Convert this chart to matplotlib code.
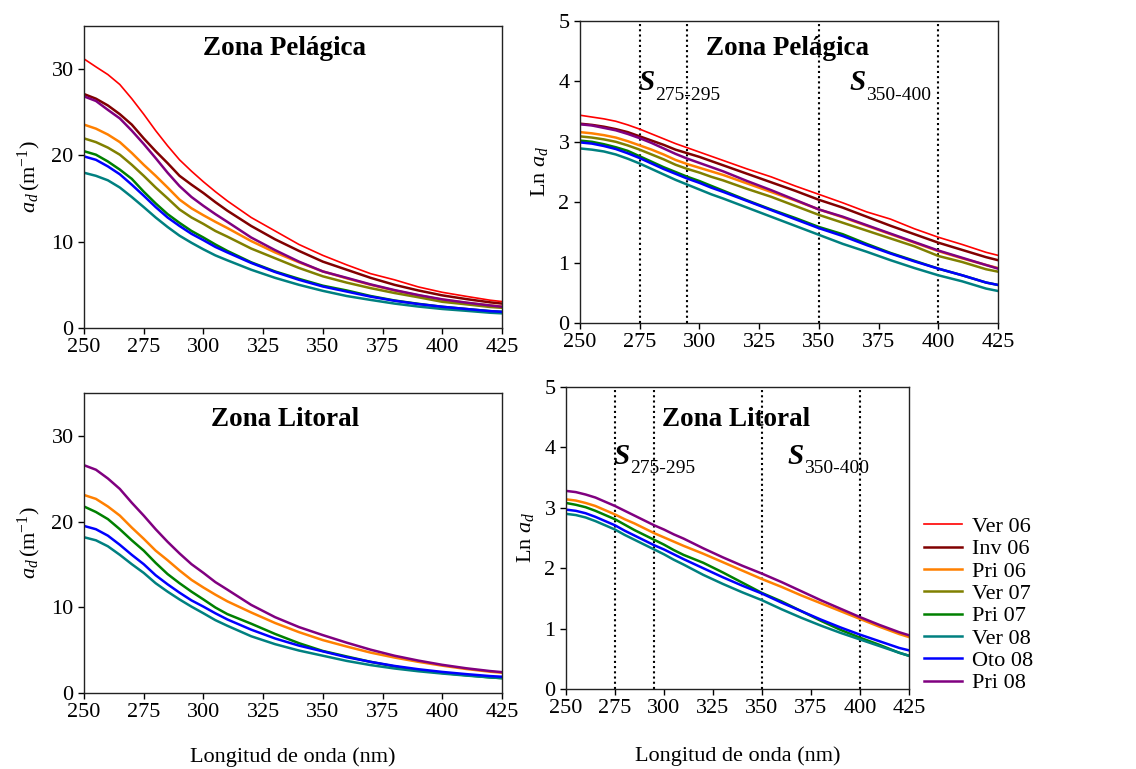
import numpy as np
import matplotlib.pyplot as plt

plt.rcParams['font.family'] = 'Liberation Serif'
plt.rcParams['mathtext.fontset'] = 'custom'
plt.rcParams['mathtext.rm'] = 'Liberation Serif'
plt.rcParams['mathtext.it'] = 'Liberation Serif:italic'
plt.rcParams['mathtext.bf'] = 'Liberation Serif:bold'

longitud = [250, 255, 260, 265, 270, 275, 280, 285, 290, 295, 300, 305, 310,
            320, 330, 340, 350, 360, 370, 380, 390, 400, 410, 420, 425]

# Ln a_d, zona pelagica
pel_ver06 = [3.44, 3.41, 3.38, 3.34, 3.28, 3.21, 3.13, 3.05, 2.97, 2.90, 2.83, 2.76, 2.69,
             2.55, 2.42, 2.27, 2.13, 1.99, 1.84, 1.72, 1.56, 1.42, 1.30, 1.17, 1.12]
pel_inv06 = [3.30, 3.28, 3.25, 3.21, 3.16, 3.09, 3.02, 2.95, 2.87, 2.81, 2.75, 2.68, 2.61,
             2.47, 2.33, 2.19, 2.04, 1.91, 1.76, 1.61, 1.47, 1.33, 1.21, 1.09, 1.04]
pel_pri06 = [3.16, 3.14, 3.11, 3.07, 3.01, 2.94, 2.87, 2.79, 2.70, 2.63, 2.57, 2.51, 2.45,
             2.31, 2.17, 2.03, 1.88, 1.75, 1.61, 1.47, 1.33, 1.19, 1.07, 0.96, 0.91]
pel_ver07 = [3.09, 3.07, 3.04, 3.00, 2.94, 2.87, 2.79, 2.71, 2.62, 2.55, 2.49, 2.42, 2.36,
             2.22, 2.09, 1.94, 1.79, 1.66, 1.53, 1.40, 1.27, 1.11, 1.01, 0.89, 0.85]
pel_pri07 = [3.02, 3.00, 2.96, 2.91, 2.85, 2.76, 2.67, 2.58, 2.50, 2.42, 2.35, 2.27, 2.19,
             2.03, 1.88, 1.74, 1.59, 1.47, 1.31, 1.16, 1.03, 0.90, 0.79, 0.67, 0.63]
pel_ver08 = [2.89, 2.87, 2.84, 2.79, 2.72, 2.64, 2.55, 2.46, 2.37, 2.29, 2.21, 2.13, 2.06,
             1.91, 1.76, 1.61, 1.46, 1.31, 1.18, 1.04, 0.91, 0.79, 0.69, 0.57, 0.53]
pel_oto08 = [2.99, 2.97, 2.93, 2.88, 2.81, 2.73, 2.64, 2.55, 2.47, 2.39, 2.32, 2.24, 2.17,
             2.02, 1.87, 1.72, 1.57, 1.44, 1.29, 1.15, 1.02, 0.90, 0.79, 0.67, 0.63]
pel_pri08 = [3.29, 3.27, 3.23, 3.19, 3.13, 3.06, 2.98, 2.89, 2.80, 2.72, 2.65, 2.58, 2.51,
             2.35, 2.20, 2.04, 1.88, 1.76, 1.62, 1.48, 1.34, 1.20, 1.08, 0.96, 0.90]

# Ln a_d, zona litoral
lit_pri06 = [3.14, 3.12, 3.08, 3.03, 2.96, 2.89, 2.81, 2.74, 2.66, 2.58, 2.51, 2.44, 2.37,
             2.24, 2.10, 1.96, 1.82, 1.69, 1.55, 1.42, 1.29, 1.16, 1.03, 0.91, 0.86]
lit_pri07 = [3.08, 3.05, 3.01, 2.95, 2.88, 2.81, 2.72, 2.63, 2.55, 2.47, 2.39, 2.30, 2.22,
             2.09, 1.93, 1.76, 1.59, 1.45, 1.29, 1.13, 0.98, 0.85, 0.73, 0.60, 0.55]
lit_ver08 = [2.90, 2.88, 2.84, 2.78, 2.71, 2.64, 2.55, 2.47, 2.39, 2.31, 2.23, 2.14, 2.06,
             1.89, 1.74, 1.60, 1.47, 1.32, 1.18, 1.05, 0.93, 0.82, 0.71, 0.60, 0.55]
lit_oto08 = [2.97, 2.95, 2.91, 2.85, 2.78, 2.71, 2.62, 2.54, 2.46, 2.38, 2.31, 2.23, 2.15,
             2.00, 1.85, 1.71, 1.58, 1.43, 1.29, 1.15, 1.02, 0.90, 0.79, 0.68, 0.64]
lit_pri08 = [3.28, 3.26, 3.22, 3.17, 3.10, 3.03, 2.95, 2.87, 2.79, 2.71, 2.64, 2.56, 2.49,
             2.33, 2.18, 2.04, 1.91, 1.77, 1.62, 1.47, 1.33, 1.19, 1.06, 0.94, 0.89]

etiquetas = ['Ver 06', 'Inv 06', 'Pri 06', 'Ver 07', 'Pri 07', 'Ver 08', 'Oto 08', 'Pri 08']
colores = ['#ff0000', '#800000', '#ff8000', '#808000', '#008000', '#008080', '#0000ff', '#800080']

pelagica = {'Ver 06': pel_ver06, 'Inv 06': pel_inv06, 'Pri 06': pel_pri06, 'Ver 07': pel_ver07,
            'Pri 07': pel_pri07, 'Ver 08': pel_ver08, 'Oto 08': pel_oto08, 'Pri 08': pel_pri08}
litoral = {'Pri 06': lit_pri06, 'Pri 07': lit_pri07, 'Ver 08': lit_ver08,
           'Oto 08': lit_oto08, 'Pri 08': lit_pri08}

FS = 16


def estilo_ejes(ax, ymax, yticks):
    ax.set_xlim(250, 425)
    ax.set_ylim(0, ymax)
    ax.set_xticks(range(250, 426, 25))
    ax.set_yticks(yticks)
    ax.tick_params(labelsize=FS, direction='out', length=4, width=1, top=False, right=False)
    for s in ax.spines.values():
        s.set_linewidth(1)
        s.set_color('#222222')


def panel_lineal(ax, datos, titulo, ty):
    for nombre, color in zip(etiquetas, colores):
        if nombre in datos:
            lw = 1.2 if nombre == 'Ver 06' else 1.8
            ax.plot(longitud, np.exp(datos[nombre]), color=color, lw=lw)
    estilo_ejes(ax, 35, [0, 10, 20, 30])
    ax.text(334, ty, titulo, fontsize=19.5, fontweight='bold', ha='center', va='center')
    ax.set_ylabel(r'$a_d\,(\mathrm{m}^{-1})$', fontsize=FS, labelpad=6)


def panel_log(ax, datos, titulo, ty, sy):
    lineas = []
    for nombre, color in zip(etiquetas, colores):
        if nombre in datos:
            lw = 1.2 if nombre == 'Ver 06' else 1.8
            l, = ax.plot(longitud, datos[nombre], color=color, lw=lw, label=nombre)
        else:
            l, = ax.plot([], [], color=color, lw=1.8, label=nombre)
        lineas.append(l)
    # limites de los intervalos de pendiente
    for x in [275, 295, 350, 400]:
        ax.axvline(x, color='black', lw=1.5, ls=(0, (1, 1.5)), zorder=0)
    estilo_ejes(ax, 5, [0, 1, 2, 3, 4, 5])
    ax.text(337, ty, titulo, fontsize=19.5, fontweight='bold', ha='center', va='center')
    for x0, sub in [(274.3, '275-295'), (362.8, '350-400')]:
        ax.annotate('S', (x0, sy), fontsize=21, fontweight='bold', style='italic',
                    ha='left', va='baseline')
        ax.annotate(sub, (x0, sy), xytext=(12, -7), textcoords='offset points',
                    fontsize=14, ha='left', va='baseline')
    ax.set_ylabel(r'$\mathrm{Ln}\ a_d$', fontsize=FS, labelpad=6)
    return lineas


fig = plt.figure(figsize=(11.36, 7.69), dpi=100)
ax1 = fig.add_axes([84 / 1136, 1 - 328 / 769, 418 / 1136, 302 / 769])
ax2 = fig.add_axes([580 / 1136, 1 - 323 / 769, 418 / 1136, 302 / 769])
ax3 = fig.add_axes([84 / 1136, 1 - 693 / 769, 418 / 1136, 300 / 769])
ax4 = fig.add_axes([566 / 1136, 1 - 689 / 769, 343 / 1136, 302 / 769])

panel_lineal(ax1, pelagica, 'Zona Pelágica', 32.4)
lineas = panel_log(ax2, pelagica, 'Zona Pelágica', 4.55, 3.85)
panel_lineal(ax3, litoral, 'Zona Litoral', 31.9)
panel_log(ax4, litoral, 'Zona Litoral', 4.47, 3.73)

ax3.set_xlabel('Longitud de onda (nm)', fontsize=FS, labelpad=18)
ax4.set_xlabel('Longitud de onda (nm)', fontsize=FS, labelpad=20)

fig.legend(lineas, etiquetas, loc='center left', bbox_to_anchor=(915 / 1136, 1 - 605 / 769),
           frameon=False, fontsize=FS, handlelength=1.7, handletextpad=0.45, labelspacing=0.08,
           borderaxespad=0)

fig.savefig('out.png', dpi=100)
